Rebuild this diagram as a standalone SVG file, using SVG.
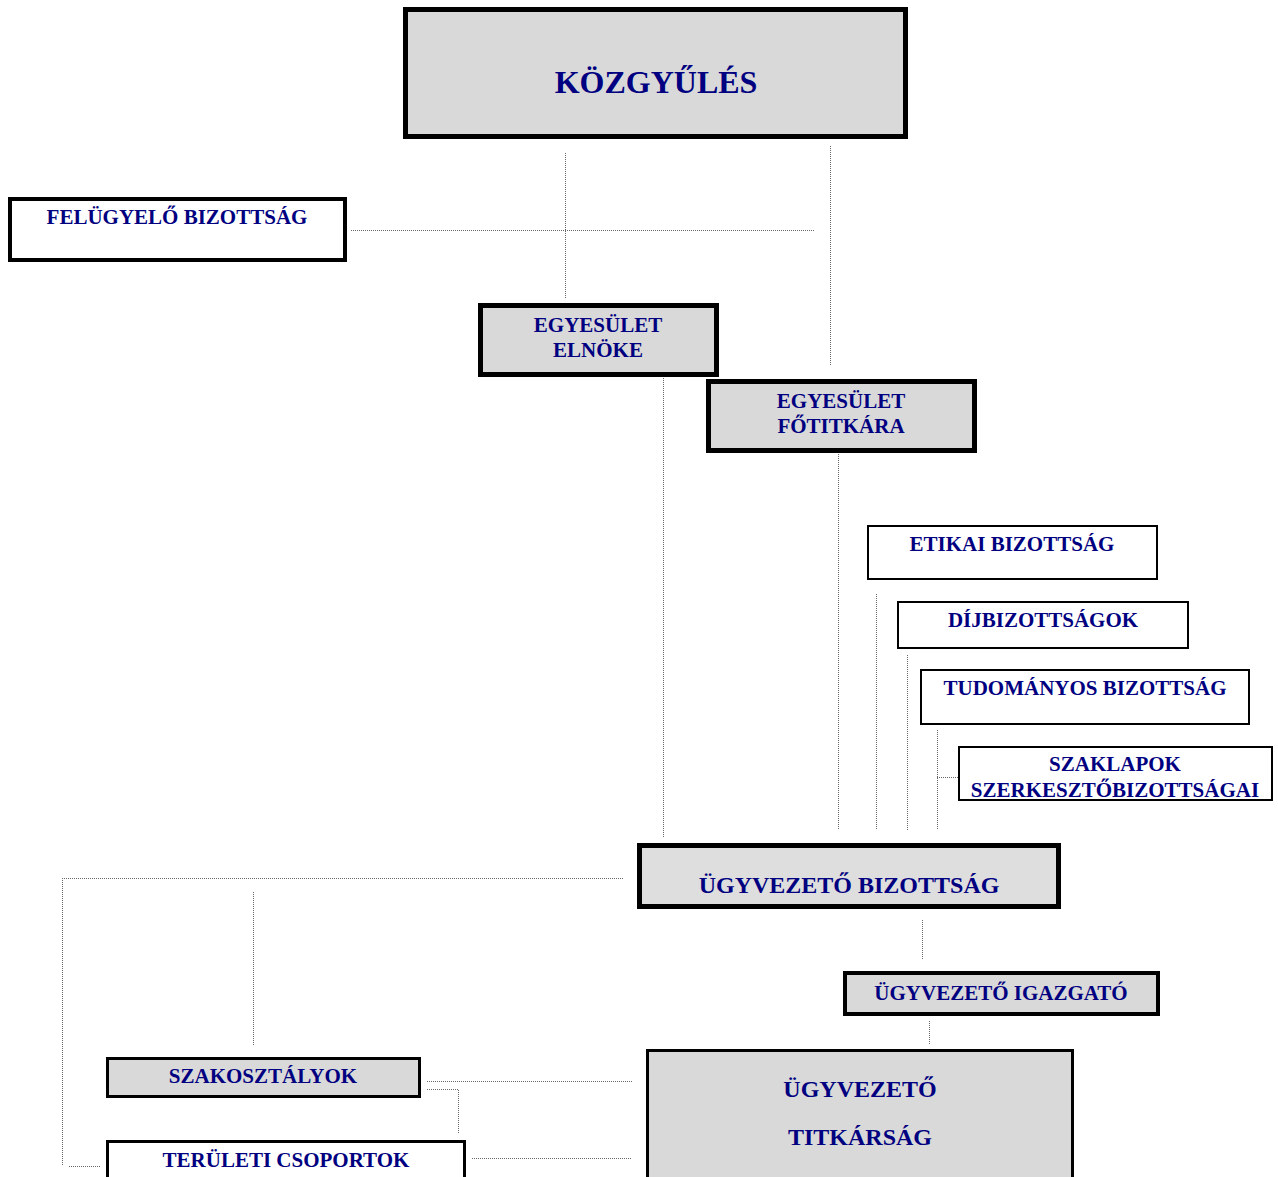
<svg xmlns="http://www.w3.org/2000/svg" width="1278" height="1177" viewBox="0 0 1278 1177">
<style>
.box{stroke:#000}
.g{fill:#d9d9d9}
.w{fill:#fff}
.t{font-family:"Liberation Serif","Times New Roman",serif;font-weight:bold;fill:#000080;text-anchor:middle;font-size:21px}
.c{fill:none;stroke:#666;stroke-width:1;stroke-dasharray:1 1}
</style>
<rect width="1278" height="1177" fill="#fff"/>
<g id="connectors">
<path class="c" d="M565.5 153V298"/>
<path class="c" d="M830.5 146V365"/>
<path class="c" d="M351 230.5H814"/>
<path class="c" d="M663.5 378V837"/>
<path class="c" d="M838.5 454V830"/>
<path class="c" d="M876.5 594V830"/>
<path class="c" d="M907.5 655V830"/>
<path class="c" d="M937.5 730V830"/>
<path class="c" d="M937 777.5H958"/>
<path class="c" d="M62 878.5H623"/>
<path class="c" d="M62.5 878V1166"/>
<path class="c" d="M69 1166.5H100"/>
<path class="c" d="M253.5 892V1046"/>
<path class="c" d="M922.5 920V960"/>
<path class="c" d="M929.5 1021V1044"/>
<path class="c" d="M427 1081.5H633"/>
<path class="c" d="M427 1089.5H458.5V1134"/>
<path class="c" d="M472 1158.5H631"/>
</g>
<g id="kozgyules">
<rect class="box g" x="405.5" y="9.5" width="500" height="127" stroke-width="5"/>
<text class="t" x="656" y="93" style="font-size:32px">KÖZGYŰLÉS</text>
</g>
<g id="felugyelo">
<rect class="box w" x="10" y="199" width="335" height="61" stroke-width="4"/>
<text class="t" x="177" y="224">FELÜGYELŐ BIZOTTSÁG</text>
</g>
<g id="elnok">
<rect class="box g" x="480.5" y="305.5" width="236" height="69" stroke-width="5"/>
<text class="t" x="598" y="332">EGYESÜLET</text>
<text class="t" x="598" y="357">ELNÖKE</text>
</g>
<g id="fotitkar">
<rect class="box g" x="708.5" y="381.5" width="266" height="69" stroke-width="5"/>
<text class="t" x="841" y="408">EGYESÜLET</text>
<text class="t" x="841" y="433">FŐTITKÁRA</text>
</g>
<g id="etikai">
<rect class="box w" x="868" y="526" width="289" height="53" stroke-width="2"/>
<text class="t" x="1012" y="551">ETIKAI BIZOTTSÁG</text>
</g>
<g id="dij">
<rect class="box w" x="898" y="602" width="290" height="46" stroke-width="2"/>
<text class="t" x="1043" y="627">DÍJBIZOTTSÁGOK</text>
</g>
<g id="tudomanyos">
<rect class="box w" x="921" y="670" width="328" height="54" stroke-width="2"/>
<text class="t" x="1085" y="695">TUDOMÁNYOS BIZOTTSÁG</text>
</g>
<g id="szaklapok">
<rect class="box w" x="959" y="747" width="313" height="53" stroke-width="2"/>
<text class="t" x="1115" y="771">SZAKLAPOK</text>
<text class="t" x="1115" y="797">SZERKESZTŐBIZOTTSÁGAI</text>
</g>
<g id="ugyvezeto-bizottsag">
<rect class="box" x="639.5" y="845.5" width="419" height="61" stroke-width="5" fill="#dedede"/>
<text class="t" x="849" y="893" style="font-size:24px">ÜGYVEZETŐ BIZOTTSÁG</text>
</g>
<g id="igazgato">
<rect class="box g" x="845" y="973" width="313" height="41" stroke-width="4"/>
<text class="t" x="1001" y="1000">ÜGYVEZETŐ IGAZGATÓ</text>
</g>
<g id="titkarsag">
<rect class="box g" x="647.5" y="1050.5" width="425" height="140" stroke-width="3"/>
<text class="t" x="860" y="1097" style="font-size:24px">ÜGYVEZETŐ</text>
<text class="t" x="860" y="1145" style="font-size:24px">TITKÁRSÁG</text>
</g>
<g id="szakosztalyok">
<rect class="box g" x="107.5" y="1058.5" width="312" height="38" stroke-width="3"/>
<text class="t" x="263" y="1083">SZAKOSZTÁLYOK</text>
</g>
<g id="teruleti">
<rect class="box w" x="107.5" y="1141.5" width="357" height="50" stroke-width="3"/>
<text class="t" x="286" y="1167">TERÜLETI CSOPORTOK</text>
</g>
</svg>
